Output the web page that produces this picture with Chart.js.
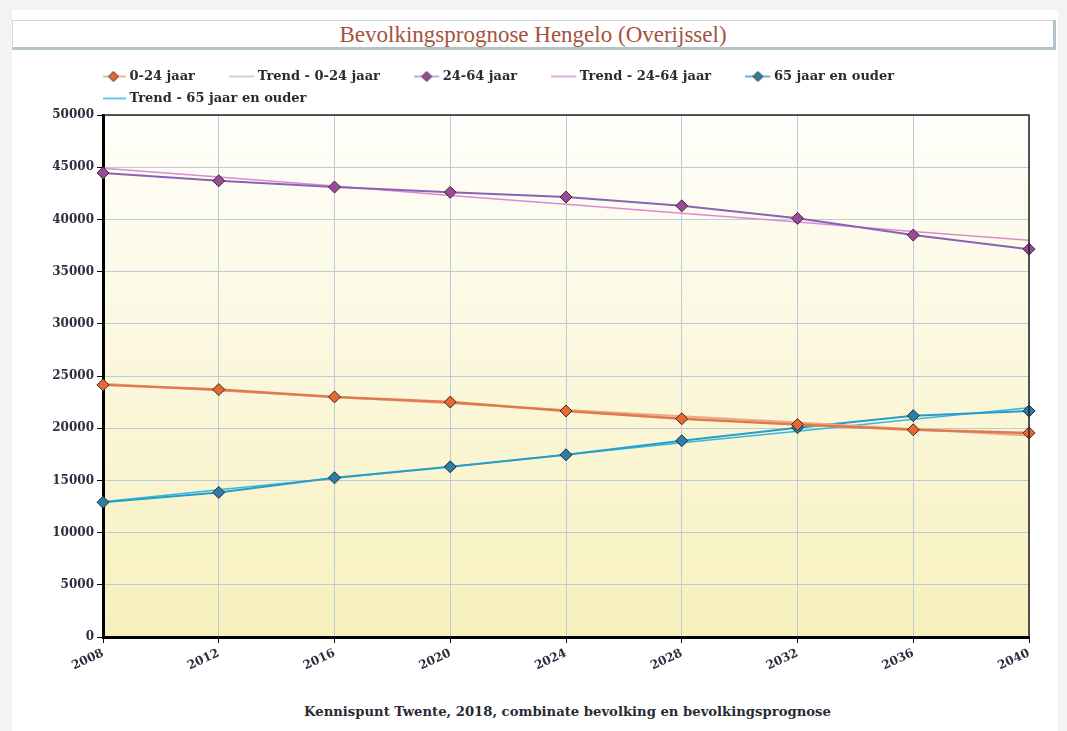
<!DOCTYPE html>
<html lang="nl">

<head>
    <meta charset="UTF-8">
    <title>Bevolkingsprognose Hengelo (Overijssel)</title>
    <script src="https://cdn.jsdelivr.net/npm/chart.js"></script>
    <style>
        body {
            margin: 0;
            padding: 0;
            width: 1067px;
            height: 731px;
            background-color: #f3f3f3;
            font-family: "Liberation Serif", serif;
            overflow: hidden;
        }

        .panel {
            position: absolute;
            left: 12px;
            top: 10px;
            width: 1046px;
            height: 721px;
            background-color: #fff;
        }

        .title-box {
            position: absolute;
            left: 12px;
            top: 20px;
            width: 1040px;
            height: 26px;
            background: #fff;
            border: 1px solid #d4d8dc;
            border-bottom: 3px solid #b4c2cc;
            border-right: 3px solid #b4c2cc;
            text-align: center;
            font-size: 23px;
            line-height: 27px;
            color: #a4533e;
        }

        .chart-container {
            position: absolute;
            left: 12px;
            top: 58px;
            width: 1043px;
            height: 640px;
        }

        .source {
            position: absolute;
            left: 0;
            top: 704px;
            width: 1135px;
            text-align: center;
            font-family: "DejaVu Serif", serif;
            font-size: 13.2px;
            font-weight: bold;
            color: #2a2a33;
        }
    </style>
</head>

<body>
    <div class="panel"></div>
    <div class="title-box">Bevolkingsprognose Hengelo (Overijssel)</div>
    <div class="chart-container">
        <canvas id="prognoseChart"></canvas>
    </div>
    <div class="source">Kennispunt Twente, 2018, combinate bevolking en bevolkingsprognose</div>

    <script>
        // data
        const years = ['2008', '2012', '2016', '2020', '2024', '2028', '2032', '2036', '2040'];
        const age0to24 = [24150, 23700, 23000, 22500, 21650, 20900, 20350, 19850, 19550];
        const trend0to24 = [24250, 23600, 23000, 22400, 21750, 21150, 20550, 19900, 19300];
        const age24to64 = [44450, 43700, 43100, 42600, 42150, 41300, 40100, 38500, 37150];
        const trend24to64 = [44900, 44050, 43200, 42300, 41450, 40600, 39750, 38850, 38000];
        const age65plus = [12900, 13850, 15250, 16300, 17450, 18800, 20050, 21200, 21650];
        const trend65plus = [12950, 14100, 15200, 16300, 17450, 18600, 19700, 20850, 21950];

        // legend icon: line with optional diamond, drawn in the left part of a wider image
        function legendIcon(lineColor, fill) {
            var c = document.createElement('canvas');
            c.width = 33;
            c.height = 14;
            var g = c.getContext('2d');
            g.strokeStyle = lineColor;
            g.lineWidth = 1.5;
            g.beginPath();
            g.moveTo(0, 7);
            g.lineTo(25, 7);
            g.stroke();
            if (fill) {
                g.fillStyle = fill;
                g.strokeStyle = '#3a2a2a';
                g.lineWidth = 1;
                g.beginPath();
                g.moveTo(12.5, 2);
                g.lineTo(17.5, 7);
                g.lineTo(12.5, 12);
                g.lineTo(7.5, 7);
                g.closePath();
                g.fill();
                g.stroke();
            }
            return c;
        }

        const icons = [
            legendIcon('#e9a27e', '#e8692f'),
            legendIcon('#b9c6cf', null),
            legendIcon('#b68ad0', '#9a4b98'),
            legendIcon('#d896d8', null),
            legendIcon('#2aa3cf', '#2b7fa3'),
            legendIcon('#2fb3e0', null)
        ];
        const legendGap = '        ';

        // gradient background + thin top/right frame
        const plotBackground = {
            id: 'plotBackground',
            beforeDraw(chart) {
                const { ctx, chartArea: a } = chart;
                const grad = ctx.createLinearGradient(0, a.top, 0, a.bottom);
                grad.addColorStop(0, '#fffefa');
                grad.addColorStop(1, '#f7f0bd');
                ctx.save();
                ctx.fillStyle = grad;
                ctx.fillRect(a.left, a.top, a.right - a.left, a.bottom - a.top);
                ctx.restore();
            },
            afterDraw(chart) {
                const { ctx, chartArea: a } = chart;
                ctx.save();
                ctx.strokeStyle = '#222';
                ctx.lineWidth = 1.5;
                ctx.beginPath();
                ctx.moveTo(a.left, a.top);
                ctx.lineTo(a.right, a.top);
                ctx.lineTo(a.right, a.bottom);
                ctx.stroke();
                ctx.restore();
            }
        };

        const tickFont = { family: 'DejaVu Serif', size: 12, weight: 'bold' };

        var ctx = document.getElementById('prognoseChart').getContext('2d');
        var prognoseChart = new Chart(ctx, {
            type: 'line',
            data: {
                labels: years,
                datasets: [{
                    label: '0-24 jaar',
                    data: age0to24,
                    borderColor: '#e07a4c',
                    borderWidth: 2.5,
                    pointStyle: 'rectRot',
                    pointRadius: 6,
                    pointBackgroundColor: '#e8692f',
                    pointBorderColor: '#3a2a2a',
                    pointBorderWidth: 1,
                    fill: false
                }, {
                    label: 'Trend - 0-24 jaar',
                    data: trend0to24,
                    borderColor: '#eba98a',
                    borderWidth: 2,
                    pointRadius: 0,
                    fill: false
                }, {
                    label: '24-64 jaar',
                    data: age24to64,
                    borderColor: '#8a62b4',
                    borderWidth: 2,
                    pointStyle: 'rectRot',
                    pointRadius: 6,
                    pointBackgroundColor: '#9a4b98',
                    pointBorderColor: '#3a2a3a',
                    pointBorderWidth: 1,
                    fill: false
                }, {
                    label: 'Trend - 24-64 jaar',
                    data: trend24to64,
                    borderColor: '#dc8ad2',
                    borderWidth: 1.5,
                    pointRadius: 0,
                    fill: false
                }, {
                    label: '65 jaar en ouder',
                    data: age65plus,
                    borderColor: '#2a9cc8',
                    borderWidth: 2,
                    pointStyle: 'rectRot',
                    pointRadius: 6,
                    pointBackgroundColor: '#2b7fa3',
                    pointBorderColor: '#1f3040',
                    pointBorderWidth: 1,
                    fill: false
                }, {
                    label: 'Trend - 65 jaar en ouder',
                    data: trend65plus,
                    borderColor: '#33b8e2',
                    borderWidth: 1.5,
                    pointRadius: 0,
                    fill: false
                }]
            },
            options: {
                responsive: true,
                maintainAspectRatio: false,
                animation: false,
                layout: {
                    padding: { left: 0, right: 26, top: 3, bottom: 0 }
                },
                plugins: {
                    tooltip: { enabled: false },
                    legend: {
                        position: 'top',
                        align: 'start',
                        fullSize: false,
                        labels: {
                            usePointStyle: true,
                            pointStyleWidth: 11,
                            padding: 9,
                            color: '#2a2a33',
                            font: { family: 'DejaVu Serif', size: 13, weight: 'bold' },
                            generateLabels(chart) {
                                const items = Chart.defaults.plugins.legend.labels.generateLabels(chart);
                                items.forEach((it, i) => {
                                    it.pointStyle = icons[i];
                                    it.text = it.text + legendGap;
                                });
                                return items;
                            }
                        }
                    }
                },
                scales: {
                    x: {
                        afterFit(scale) { scale.height = 61; },
                        grid: { color: '#b9ccd8', tickColor: '#000', tickLength: 6 },
                        border: { color: '#000', width: 3 },
                        ticks: {
                            minRotation: 25,
                            maxRotation: 25,
                            color: '#2a3040',
                            font: tickFont
                        }
                    },
                    y: {
                        min: 0,
                        max: 50000,
                        afterFit(scale) { scale.width = 91; },
                        grid: { color: '#b9ccd8', tickColor: '#000', tickLength: 6 },
                        border: { color: '#000', width: 3 },
                        ticks: {
                            stepSize: 5000,
                            color: '#2a3040',
                            font: tickFont,
                            callback: v => String(v)
                        }
                    }
                }
            },
            plugins: [plotBackground]
        });
    </script>
</body>

</html>
